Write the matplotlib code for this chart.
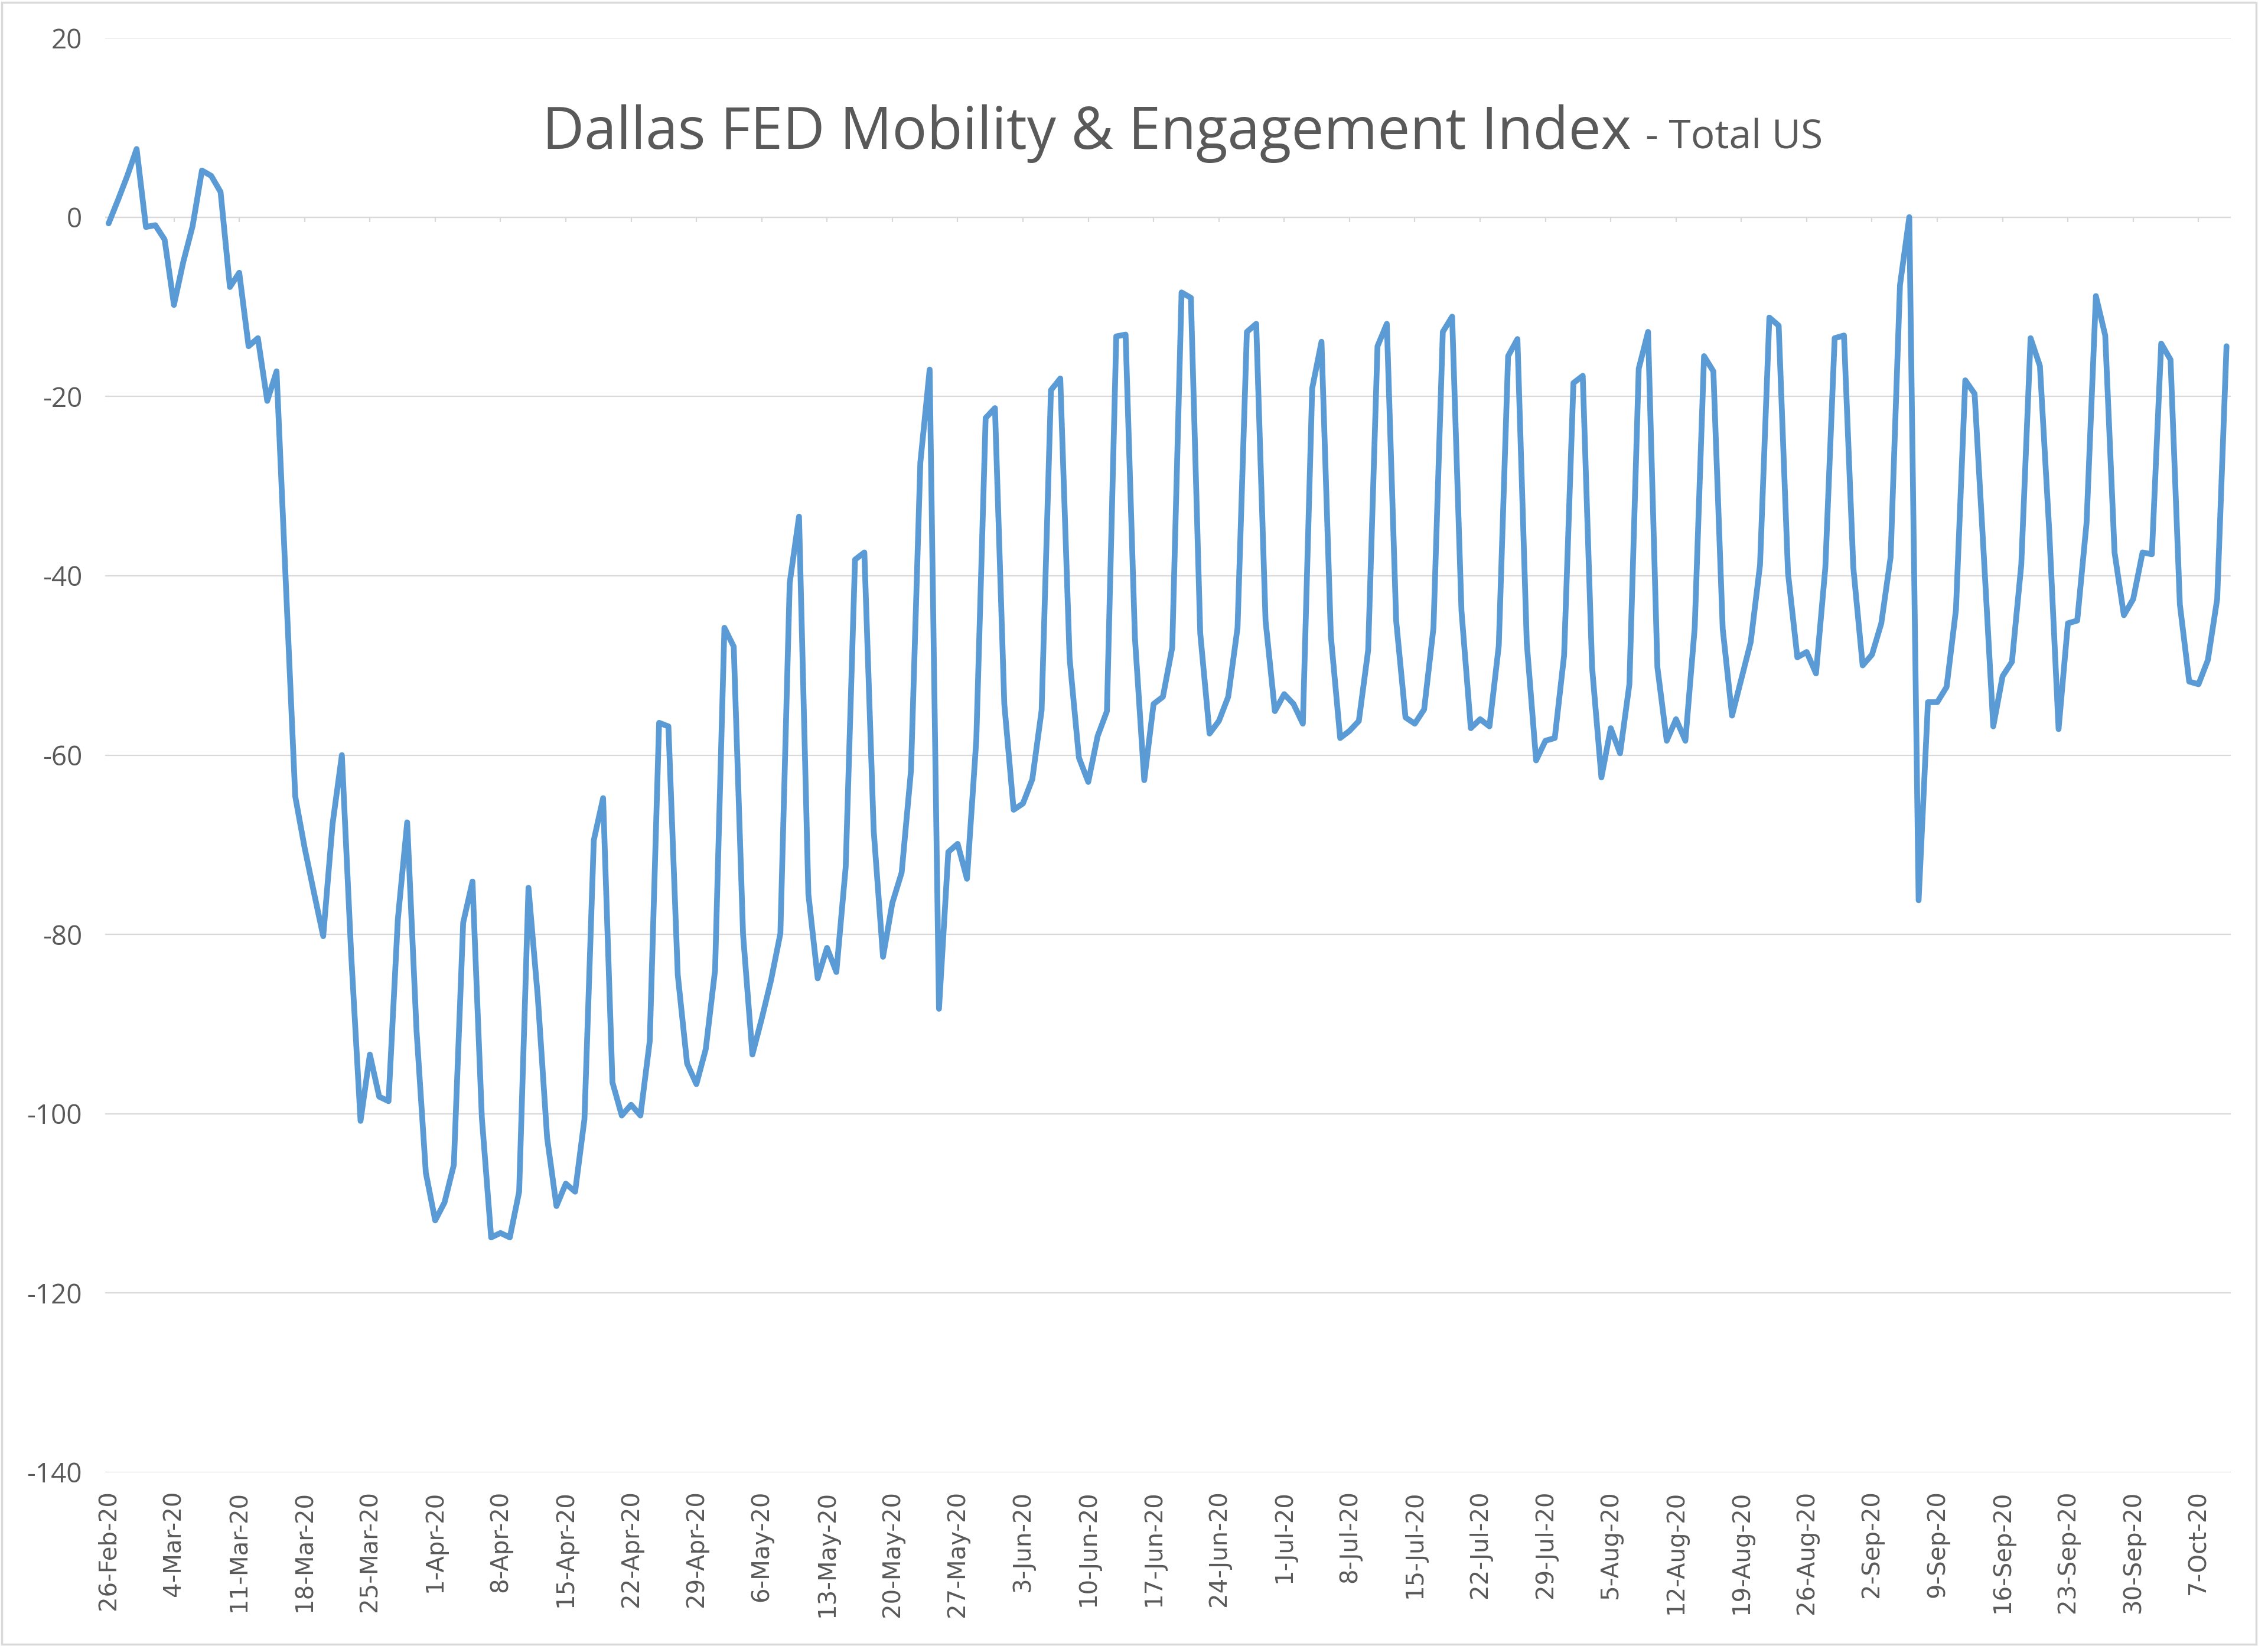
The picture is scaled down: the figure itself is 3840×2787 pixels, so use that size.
import numpy as np
import pandas as pd
import matplotlib
matplotlib.use('Agg')
import matplotlib.pyplot as plt
from matplotlib.patches import Rectangle

# ---------------- data ----------------
start_date = '2020-02-26'
values = [
    -0.7, 1.9, 4.6, 7.6, -1.1, -0.9, -2.5,
    -9.8, -5.0, -1.0, 5.2, 4.6, 2.8, -7.8,
    -6.2, -14.4, -13.5, -20.5, -17.2, -41.0, -64.6,
    -70.3, -75.3, -80.2, -67.7, -60.0, -82.3, -100.8,
    -93.4, -98.1, -98.6, -78.3, -67.5, -90.7, -106.6,
    -111.9, -109.9, -105.7, -78.7, -74.1, -100.4, -113.8,
    -113.3, -113.8, -108.7, -74.8, -87.0, -102.7, -110.3,
    -107.8, -108.7, -100.6, -69.5, -64.8, -96.5, -100.2,
    -99.0, -100.2, -91.9, -56.4, -56.8, -84.5, -94.4,
    -96.7, -92.8, -84.0, -45.8, -47.9, -80.0, -93.4,
    -89.4, -85.1, -79.9, -40.8, -33.4, -75.5, -84.9,
    -81.5, -84.2, -72.5, -38.2, -37.4, -68.4, -82.5,
    -76.5, -73.1, -61.7, -27.4, -17.0, -88.3, -70.8,
    -69.9, -73.8, -58.3, -22.4, -21.3, -54.3, -66.1,
    -65.4, -62.7, -55.0, -19.3, -18.0, -49.2, -60.3,
    -63.0, -57.9, -55.1, -13.3, -13.1, -46.9, -62.8,
    -54.3, -53.5, -48.0, -8.4, -9.0, -46.4, -57.6,
    -56.2, -53.5, -45.8, -12.8, -11.9, -45.0, -55.1,
    -53.2, -54.3, -56.5, -19.1, -13.9, -46.7, -58.1,
    -57.3, -56.2, -48.3, -14.4, -11.9, -45.0, -55.8,
    -56.5, -54.9, -45.8, -12.8, -11.1, -43.9, -57.0,
    -56.0, -56.8, -47.8, -15.5, -13.6, -47.5, -60.6,
    -58.4, -58.1, -48.9, -18.5, -17.7, -50.2, -62.5,
    -57.0, -59.8, -52.1, -16.9, -12.8, -50.2, -58.4,
    -56.0, -58.4, -45.8, -15.5, -17.2, -45.9, -55.6,
    -51.5, -47.4, -38.8, -11.2, -12.1, -39.7, -49.1,
    -48.5, -50.9, -39.1, -13.5, -13.2, -39.1, -50.0,
    -48.8, -45.3, -37.9, -7.6, 0.0, -76.2, -54.1,
    -54.1, -52.4, -43.8, -18.2, -19.7, -38.0, -56.8,
    -51.2, -49.6, -38.8, -13.5, -16.6, -35.0, -57.1,
    -45.3, -45.0, -34.1, -8.8, -13.2, -37.4, -44.4,
    -42.6, -37.4, -37.6, -14.1, -15.9, -43.2, -51.8,
    -52.1, -49.4, -42.6, -14.4,
]
dates = pd.date_range(start_date, periods=len(values), freq='D')
tick_dates = dates[::7]
tick_labels = [f"{d.day}-{d.strftime('%b')}-{d.strftime('%y')}" for d in tick_dates]
y_ticks = list(range(-140, 21, 20))

title_main = 'Dallas FED Mobility & Engagement Index'
title_sub = '- Total US'

# ---------------- style ----------------
W, H = 3840, 2787
LINE = '#5B9BD5'
GRID = '#D9D9D9'
TXT = '#595959'

fig = plt.figure(figsize=(W / 100, H / 100), dpi=100)
ax = fig.add_axes([178 / W, 1 - 2493 / H, (3777 - 178) / W, (2493 - 64) / H])

ax.plot(dates, values, color=LINE, lw=7.0, solid_joinstyle='round',
        solid_capstyle='round', zorder=3)

ax.set_ylim(-140, 20)
ax.set_yticks(y_ticks)
ax.set_xlim(dates[0] - pd.Timedelta(hours=9), dates[-1] + pd.Timedelta(hours=11))
ax.set_xticks(tick_dates)
ax.set_xticklabels(tick_labels, rotation=90, fontsize=29, color=TXT, family='DejaVu Sans')
ax.set_yticklabels([str(v) for v in y_ticks], fontsize=33, color=TXT, family='Open Sans')
ax.tick_params(axis='x', length=0, pad=22)
ax.tick_params(axis='y', length=0, pad=28)

ax.grid(axis='y', color=GRID, lw=1.6, zorder=0)
ax.grid(axis='x', visible=False)
ax.set_axisbelow(True)
for s in ax.spines.values():
    s.set_visible(False)

# category axis line crossing at 0 with small tick marks
ax.axhline(0, color=GRID, lw=1.6, zorder=1)
ax.vlines(tick_dates, -0.55, 0, color=GRID, lw=1.6, zorder=1)

# ---------------- title ----------------
renderer = fig.canvas.get_renderer()
base_y = 1 - 252 / H
t1 = fig.text(918 / W, base_y, title_main, fontsize=70, family='Open Sans',
              color=TXT, va='baseline', ha='left')
bb = t1.get_window_extent(renderer)
t1.set_fontsize(70 * 1844 / bb.width)
bb = t1.get_window_extent(renderer)
t2 = fig.text((bb.x1 + 24) / W, base_y, title_sub, fontsize=40, family='Open Sans',
              color=TXT, va='baseline', ha='left')
bb2 = t2.get_window_extent(renderer)
t2.set_fontsize(40 * 300 / bb2.width)

# chart border
fig.patches.append(Rectangle((3 / W, 3 / H), (3820 - 3) / W, (2783 - 3) / H,
                             transform=fig.transFigure, fill=False,
                             ec=GRID, lw=2.5))

fig.savefig('out.png', dpi=100, facecolor='white')
